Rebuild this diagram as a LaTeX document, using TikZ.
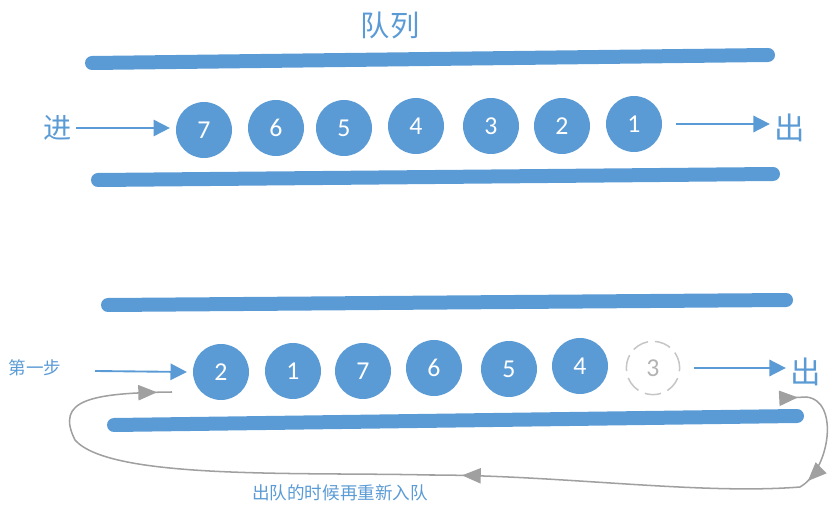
\documentclass[tikz,border=0pt]{standalone}
\usepackage{fontspec}
\setmainfont{Carlito}
\newfontfamily\cjk{Noto Sans CJK SC}
\usetikzlibrary{arrows.meta,decorations.markings}
\definecolor{qblue}{HTML}{5B9BD5}
\definecolor{lgray}{HTML}{A0A0A0}
\begin{document}
\begin{tikzpicture}[x=0.03cm,y=-0.03cm,
  bar/.style={line width=0.42cm,qblue,line cap=round},
  ball/.style={circle,fill=qblue,text=white,minimum size=1.68cm,inner sep=0pt,font=\fontsize{22}{22}\selectfont},
  ghost/.style={circle,draw=lgray!60,dash pattern=on 14pt off 6pt,line width=1.3pt,text=lgray!80,minimum size=1.6cm,inner sep=0pt,font=\fontsize{22}{22}\selectfont},
  flow/.style={qblue,line width=1.6pt,-{Triangle[length=14pt,width=14pt]}},
  lbl/.style={text=qblue,font=\cjk\fontsize{24}{24}\selectfont,inner sep=0pt},
  tri/.style={fill=lgray,draw=none},
]
\useasboundingbox (0,0) rectangle (835,511);
% top queue
\node[lbl,font=\cjk\fontsize{25}{25}\selectfont] (title) at (390,25) {队列};
\draw[bar] (92,63) -- (768,55);
\draw[bar] (98,180) -- (773,174);
\node[lbl] (jin) at (58,128) {进};
\node[ball] (t7) at (204,130) {7};
\node[ball] (t6) at (276,128) {6};
\node[ball] (t5) at (344,128) {5};
\node[ball] (t4) at (416,126) {4};
\node[ball] (t3) at (491,126) {3};
\node[ball] (t2) at (562,126) {2};
\node[ball] (t1) at (634,124) {1};
\node[lbl,font=\cjk\fontsize{26}{26}\selectfont] (chu1) at (790,128) {出};
\draw[flow] (jin.east)+(4,0) -- ([xshift=-5]t7.west |- jin.east);
\draw[flow] ([xshift=12]t1.east) -- ([xshift=-4]chu1.west |- t1.east);
% bottom queue
\draw[bar] (108,305) -- (786,300);
\draw[bar] (114,425) -- (797,416);
\node[lbl,font=\cjk\fontsize{15}{15}\selectfont] (step1) at (35,368) {第一步};
\node[ball] (b2) at (221,372) {2};
\node[ball] (b1) at (293,371) {1};
\node[ball] (b7) at (363,371) {7};
\node[ball] (b6) at (434,368) {6};
\node[ball] (b5) at (509,369) {5};
\node[ball] (b4) at (580,366) {4};
\node[ghost] (b3) at (653,368) {3};
\node[lbl,font=\cjk\fontsize{26}{26}\selectfont] (chu2) at (806,372) {出};
\draw[flow] (95,371) -- ([xshift=-5]b2.west);
\draw[flow] ([xshift=12]b3.east) -- ([xshift=-4]chu2.west |- b3.east);
% loop
\coordinate (ls) at (786,398);
\draw[lgray,line width=1.3pt,postaction={decorate},decoration={markings,
   mark=at position 0.012 with {\arrow{Triangle[length=16pt,width=13pt]}},
   mark=at position 0.12 with {\arrow{Triangle[length=16pt,width=13pt]}},
   mark=at position 0.47 with {\arrow{Triangle[length=16pt,width=13pt]}},
   mark=at position 0.985 with {\arrow{Triangle[length=16pt,width=13pt]}}}]
  (ls) -- (806,397) .. controls (840,400) and (830,470) .. (800,487)
  .. controls (700,495) and (560,475) .. (430,475)
  .. controls (300,472) and (110,480) .. (75,440)
  .. controls (55,400) and (90,393) .. (172,392);
\node[lbl,font=\cjk\fontsize{15}{15}\selectfont] (note) at (340,493) {出队的时候再重新入队};
\end{tikzpicture}
\end{document}
